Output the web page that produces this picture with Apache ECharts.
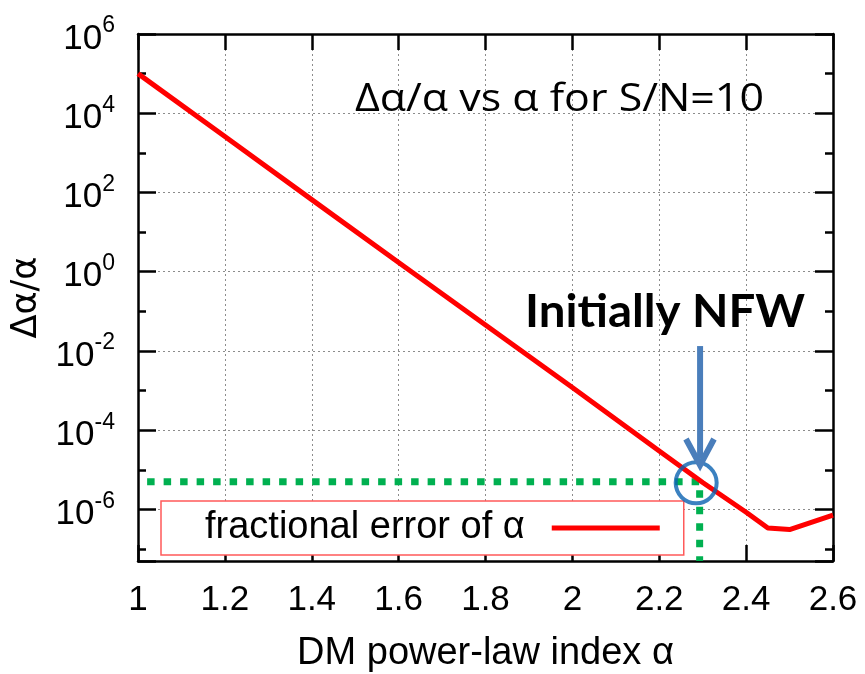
<!DOCTYPE html>
<html>
<head>
<meta charset="utf-8">
<script src="https://cdn.jsdelivr.net/npm/echarts@6/dist/echarts.min.js"></script>
<style>
html,body{margin:0;padding:0;background:#fff;}
#chart{width:865px;height:674px;}
</style>
</head>
<body>
<div id="chart"></div>
<script>
// ---- data ----
const alphaValues = [1.0, 1.2, 1.4, 1.6, 1.8, 2.0, 2.2, 2.3, 2.4, 2.45, 2.5, 2.6];
const fracError   = [1e5, 2.6e3, 66, 1.7, 0.045, 1.2e-3, 3.0e-5, 4.8e-6, 8.5e-7, 3.4e-7, 3.1e-7, 7.2e-7];
const seriesName  = 'fractional error of α';
const xTickLabels = ['1', '1.2', '1.4', '1.6', '1.8', '2', '2.2', '2.4', '2.6'];
const yRange      = [5e-8, 1e6];
const xRange      = [1, 2.6];

// annotation anchors (data coordinates)
const nfwAlpha    = 2.293;
const nfwLevel    = 5e-6;
const circlePoint = [2.285, 4.7e-6];
const arrowShaft  = [[2.294, 1.33e-2], [2.294, 1.9e-5]];
const arrowHead   = [[2.2615, 6.0e-5], [2.294, 1.32e-5], [2.326, 6.0e-5]];

const lg = v => Math.log10(v);
const pt = (a, v) => [a, lg(v)];

const chart = echarts.init(document.getElementById('chart'), null, {renderer: 'canvas'});

const FONT = '"Liberation Sans", Arial, Helvetica, sans-serif';

function yLabel(v) {
  const e = Math.round(v);
  if (Math.abs(v - e) > 1e-6 || e % 2 !== 0) return '';
  return '{b|10}{s|' + e + '}';
}

const yCommon = {
  type: 'value',
  min: lg(yRange[0]),
  max: lg(yRange[1]),
  splitNumber: 7,
  minInterval: 2,
  maxInterval: 2,
  axisLine: {show: true, onZero: false, lineStyle: {color: '#000', width: 2.5}},
  axisTick: {show: true, inside: true, length: 18, lineStyle: {color: '#000', width: 2.5}},
  minorTick: {show: true, splitNumber: 2, length: 8, lineStyle: {color: '#000', width: 2.5}},
  minorSplitLine: {show: false}
};

const xCommon = {
  type: 'value',
  min: xRange[0],
  max: xRange[1],
  interval: 0.2,
  axisLine: {show: true, onZero: false, lineStyle: {color: '#000', width: 2.5}},
  axisTick: {show: true, inside: true, length: 16, lineStyle: {color: '#000', width: 2.5}}
};

const option = {
  backgroundColor: '#fff',
  animation: false,
  textStyle: {fontFamily: FONT, color: '#000'},
  grid: {left: 138, right: 32, top: 34, bottom: 113, containLabel: false, outerBoundsMode: 'none'},
  xAxis: [
    Object.assign({}, xCommon, {
      position: 'bottom',
      axisLabel: {
        show: true, margin: 22, fontSize: 35, fontFamily: FONT, color: '#000',
        formatter: v => {
          const i = Math.round((v - xRange[0]) / 0.2);
          return xTickLabels[i] !== undefined ? xTickLabels[i] : '';
        }
      },
      splitLine: {show: true, lineStyle: {color: '#8c8c8c', width: 1, type: [2, 3]}},
      name: 'DM power-law index α',
      nameLocation: 'middle',
      nameGap: 74,
      nameTextStyle: {fontSize: 38, fontFamily: FONT, color: '#000'}
    }),
    Object.assign({}, xCommon, {
      position: 'top',
      axisLabel: {show: false},
      splitLine: {show: false}
    })
  ],
  yAxis: [
    Object.assign({}, yCommon, {
      position: 'left',
      axisLabel: {
        show: true, margin: 23, formatter: yLabel,
        padding: [10, 0, 0, 0],
        rich: {
          b: {fontSize: 35, fontFamily: FONT, color: '#000'},
          s: {fontSize: 23, fontFamily: FONT, color: '#000', padding: [0, 0, 26, 0]}
        }
      },
      splitLine: {show: true, lineStyle: {color: '#8c8c8c', width: 1, type: [2, 3]}},
      name: 'Δα/α',
      nameLocation: 'middle',
      nameGap: 92,
      nameRotate: 90,
      nameTextStyle: {fontSize: 35, fontFamily: '"DejaVu Sans", sans-serif', color: '#000'}
    }),
    Object.assign({}, yCommon, {
      position: 'right',
      axisLabel: {show: false},
      splitLine: {show: false}
    })
  ],
  legend: {
    data: [seriesName],
    left: 161,
    top: 501,
    orient: 'horizontal',
    align: 'right',
    icon: 'rect',
    itemWidth: 108,
    itemHeight: 5,
    padding: [8, 24, 8, 44],
    borderColor: '#ff5a5a',
    borderWidth: 1.5,
    borderRadius: 0,
    backgroundColor: '#fff',
    selectedMode: false,
    itemStyle: {color: '#ff0000', borderWidth: 0},
    textStyle: {fontSize: 38, fontFamily: FONT, color: '#000', lineHeight: 27, padding: [0, 22, 0, 0]}
  },
  series: [
    {
      name: seriesName,
      type: 'line',
      xAxisIndex: 0, yAxisIndex: 0,
      data: alphaValues.map((a, i) => pt(a, fracError[i])),
      symbol: 'none',
      color: '#ff0000',
      lineStyle: {color: '#ff0000', width: 5, join: 'round'},
      z: 3
    },
    {
      name: 'nfw-guide',
      type: 'line',
      data: [pt(1.021, nfwLevel), pt(nfwAlpha, nfwLevel), pt(nfwAlpha, yRange[0])],
      symbol: 'none',
      silent: true,
      lineStyle: {color: '#00b050', width: 7, type: [7.5, 9], cap: 'butt'},
      z: 2
    },
    {
      name: 'nfw-circle',
      type: 'scatter',
      data: [pt(circlePoint[0], circlePoint[1])],
      symbol: 'circle',
      symbolSize: 41,
      silent: true,
      itemStyle: {color: 'rgba(0,0,0,0)', borderColor: '#0a62b0', borderWidth: 4},
      z: 5
    },
    {
      name: 'arrow-shaft',
      type: 'line',
      data: arrowShaft.map(p => pt(p[0], p[1])),
      symbol: 'none',
      silent: true,
      lineStyle: {color: '#4a7ebb', width: 6, cap: 'butt'},
      z: 6
    },
    {
      name: 'arrow-head',
      type: 'line',
      data: arrowHead.map(p => pt(p[0], p[1])),
      symbol: 'none',
      silent: true,
      lineStyle: {color: '#4a7ebb', width: 6, join: 'miter', cap: 'butt'},
      z: 6
    }
  ],
  graphic: [
    {
      type: 'text', x: 355, y: 100, scaleX: 1.13, z: 10,
      style: {text: 'Δα/α vs α for S/N=10', font: '38px "Open Sans", sans-serif', fill: '#000', align: 'left', verticalAlign: 'middle'}
    },
    {
      type: 'text', x: 525, y: 312, scaleX: 1.03, z: 10,
      style: {text: 'Initially NFW', font: 'bold 46px Lato, "Open Sans", sans-serif', fill: '#000', align: 'left', verticalAlign: 'middle'}
    }
  ]
};

chart.setOption(option);
</script>
</body>
</html>
